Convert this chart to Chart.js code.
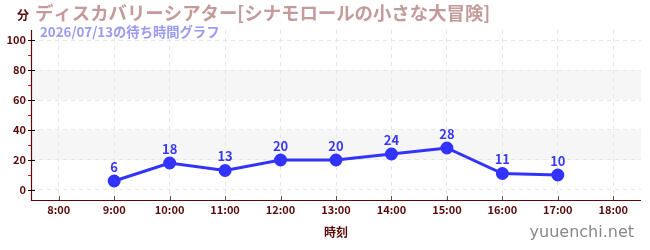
<!DOCTYPE html>
<html><head><meta charset="utf-8">
<script src="https://cdn.jsdelivr.net/npm/chart.js@4/dist/chart.umd.min.js"></script>
<style>html,body{margin:0;padding:0;background:#fff}#wrap{width:650px;height:250px}</style>
</head><body><div id="wrap"><canvas id="c" width="650" height="250"></canvas></div>
<script>
const titleText = 'ディスカバリーシアター[シナモロールの小さな大冒険]';
const subtitleText = '2026/07/13の待ち時間グラフ';
const yUnit = '分';
const xTitle = '時刻';
const watermark = 'yuuenchi.net';
const hours = [9, 10, 11, 12, 13, 14, 15, 16, 17];
const waits = [6, 18, 13, 20, 20, 24, 28, 11, 10];
const xTickHours = [8, 9, 10, 11, 12, 13, 14, 15, 16, 17, 18];
const yTickValues = [0, 20, 40, 60, 80, 100];
const yMinorValues = [10, 30, 50, 70, 90];
const bands = [[20, 40], [60, 80]];

const FONT = '"Noto Sans CJK JP", "Noto Sans", sans-serif';
const DARK = '#5a0a0a';

const deco = {
  id: 'deco',
  beforeDraw(chart) {
    const {ctx, chartArea: a, scales: {y}} = chart;
    ctx.save();
    ctx.fillStyle = '#f6f6f6';
    bands.forEach(([lo, hi]) => {
      const t = y.getPixelForValue(hi), b = y.getPixelForValue(lo);
      ctx.fillRect(a.left, t, a.right - a.left, b - t);
    });
    ctx.restore();
  },
  afterDraw(chart) {
    const {ctx, chartArea: a, scales: {x, y}} = chart;
    ctx.save();
    ctx.strokeStyle = DARK; ctx.lineWidth = 1.2;
    ctx.beginPath(); ctx.moveTo(a.left + 0.5, a.top); ctx.lineTo(a.left + 0.5, a.bottom + 0.5); ctx.lineTo(a.right, a.bottom + 0.5); ctx.stroke();
    ctx.strokeStyle = '#111'; ctx.lineWidth = 1;
    yTickValues.forEach(v => { const p = Math.round(y.getPixelForValue(v)) + 0.5; ctx.beginPath(); ctx.moveTo(a.left - 3, p); ctx.lineTo(a.left + 4, p); ctx.stroke(); });
    ctx.strokeStyle = '#e00000';
    yMinorValues.forEach(v => { const p = Math.round(y.getPixelForValue(v)) + 0.5; ctx.beginPath(); ctx.moveTo(a.left - 3, p); ctx.lineTo(a.left, p); ctx.stroke(); });
    ctx.strokeStyle = '#555';
    xTickHours.forEach(h => { const p = Math.round(x.getPixelForValue(h)) + 0.5; ctx.beginPath(); ctx.moveTo(p, a.bottom - 4); ctx.lineTo(p, a.bottom); ctx.stroke(); });
    ctx.fillStyle = '#3838f0'; ctx.font = 'bold 13px ' + FONT; ctx.textAlign = 'center'; ctx.textBaseline = 'middle';
    chart.getDatasetMeta(0).data.forEach((pt, i) => { ctx.fillText(String(waits[i]), pt.x, pt.y - 14); });
    ctx.textAlign = 'left';
    ctx.fillStyle = DARK; ctx.font = 'bold 12px ' + FONT; ctx.fillText(yUnit, 17, 15);
    ctx.fillStyle = '#c49a9a'; ctx.font = 'bold 18.4px ' + FONT; ctx.fillText(titleText, 35, 13);
    ctx.fillStyle = '#9a9af5'; ctx.font = 'bold 13.3px ' + FONT; ctx.fillText(subtitleText, 40, 32);
    ctx.fillStyle = DARK; ctx.font = 'bold 12px ' + FONT; ctx.textAlign = 'center'; ctx.fillText(xTitle, (a.left + a.right) / 2, 232);
    ctx.fillStyle = '#888'; ctx.font = '16px "DejaVu Sans", sans-serif'; ctx.textAlign = 'right'; ctx.fillText(watermark, 634, 233);
    ctx.restore();
  }
};

new Chart(document.getElementById('c'), {
  type: 'line',
  data: { datasets: [{
    data: hours.map((h, i) => ({x: h, y: waits[i]})),
    borderColor: '#3333ff', backgroundColor: '#3333ff',
    borderWidth: 3, pointRadius: 5, pointHoverRadius: 5, tension: 0
  }]},
  options: {
    responsive: false, animation: false, devicePixelRatio: 1,
    layout: { padding: { left: 0, top: 30, right: 9, bottom: 0 } },
    plugins: { legend: { display: false }, tooltip: { enabled: false } },
    scales: {
      x: {
        type: 'linear', min: 7.5, max: 18.5,
        afterBuildTicks: s => { s.ticks = xTickHours.map(v => ({value: v})); },
        afterFit: s => { s.height = 50; },
        grid: { color: '#e6e6e6', drawTicks: false },
        border: { display: false, dash: [4, 4] },
        ticks: { padding: 3, color: DARK, font: { family: FONT, size: 11, weight: 'bold' }, callback: v => v + ':00', maxRotation: 0 }
      },
      y: {
        min: -6.667, max: 106.667,
        afterBuildTicks: s => { s.ticks = yTickValues.map(v => ({value: v})); },
        afterFit: s => { s.width = 31; },
        grid: { color: '#e6e6e6', drawTicks: false },
        border: { display: false, dash: [4, 4] },
        ticks: { padding: 5, color: DARK, font: { family: FONT, size: 11, weight: 'bold' } }
      }
    }
  },
  plugins: [deco]
});
</script></body></html>
